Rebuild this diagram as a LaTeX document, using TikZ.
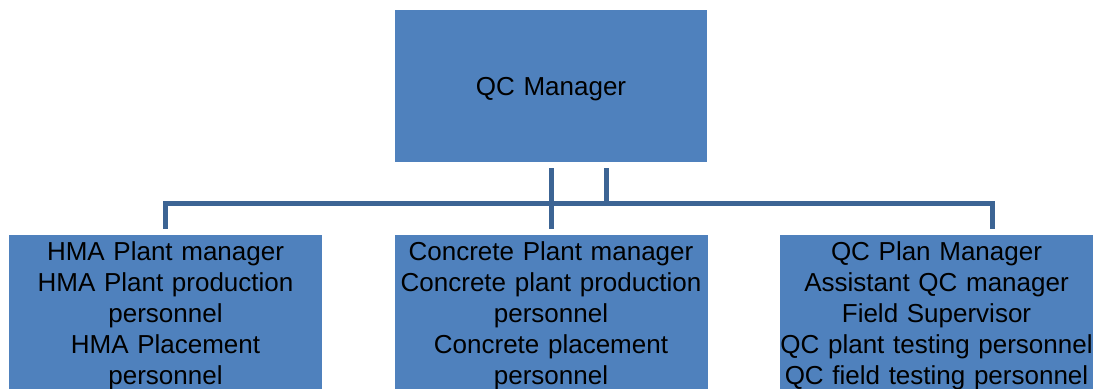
\documentclass[tikz,border=0pt]{standalone}
\usepackage{fontspec}
\setmainfont{Liberation Sans}
\definecolor{boxblue}{HTML}{4F81BD}
\definecolor{lineblue}{HTML}{3C6494}
\begin{document}
\begin{tikzpicture}[x=1pt,y=-1pt,
  box/.style={fill=boxblue, draw=none, minimum width=313pt, text width=313pt,
    align=center, inner xsep=0pt, font=\fontsize{26}{31}\selectfont},
  lowbox/.style={box, anchor=north, inner ysep=6pt},
  conn/.style={draw=lineblue, line width=5pt}]
\useasboundingbox (0,0) rectangle (1099,388);
\clip (0,0) rectangle (1099,388);
\node[box, minimum height=152pt, minimum width=312pt, text width=312pt] (top) at (551,86) {\raisebox{-3pt}[19pt][5.5pt]{QC Manager}};
\node[lowbox] (left) at (165.5,235) {HMA Plant manager\\HMA Plant production\\personnel\\HMA Placement\\personnel};
\node[lowbox] (mid) at (551,235) {Concrete Plant manager\\Concrete plant production\\personnel\\Concrete placement\\personnel};
\node[lowbox] (right) at (936.5,235) {QC Plan Manager\\Assistant QC manager\\Field Supervisor\\QC plant testing personnel\\QC field testing personnel};
\coordinate (bus) at (551,203);
\coordinate (rdrop) at ([xshift=55.5pt]right.north);
\draw[conn] ([yshift=-6pt]top.south) -- ([yshift=6pt]mid.north);
\draw[conn] ([xshift=55pt,yshift=-6pt]top.south) |- (bus -| left.north) -- ([yshift=6pt]left.north);
\draw[conn] ([yshift=-6pt]top.south) |- (bus -| rdrop) -- ([yshift=6pt]rdrop);
\end{tikzpicture}
\end{document}
